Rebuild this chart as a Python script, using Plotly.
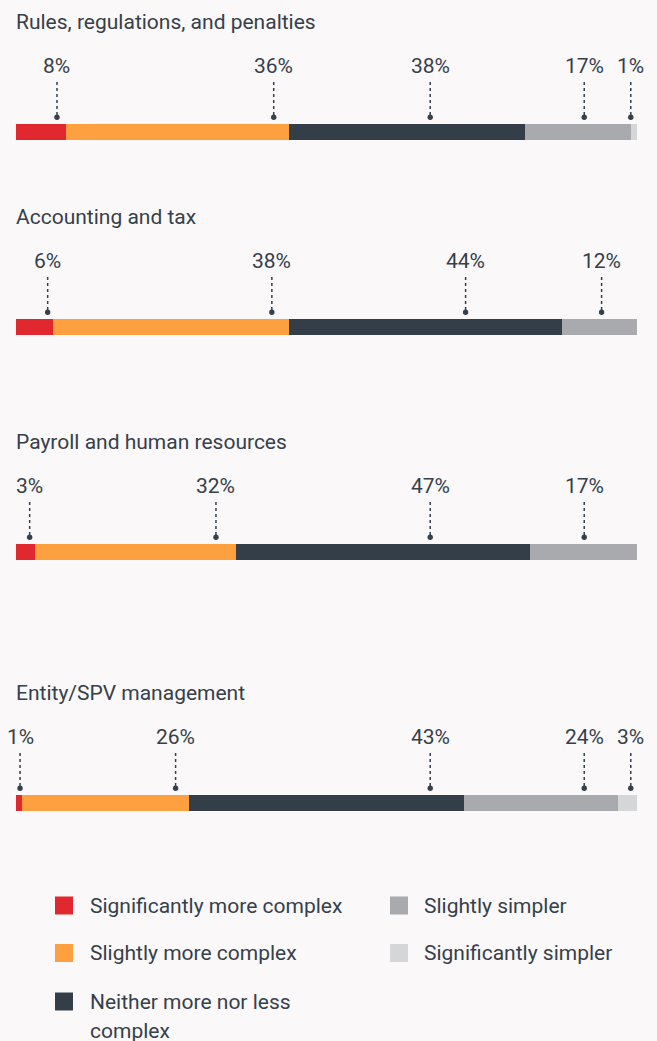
import textwrap
import plotly.graph_objects as go

# Survey areas (one stacked bar each)
areas = [
    "Rules, regulations, and penalties",
    "Accounting and tax",
    "Payroll and human resources",
    "Entity/SPV management",
]

# Response categories, in stacking order
responses = [
    "Significantly more complex",
    "Slightly more complex",
    "Neither more nor less complex",
    "Slightly simpler",
    "Significantly simpler",
]

# Share of respondents (%) per area, one list per response category
sig_more = [8, 6, 3, 1]
slight_more = [36, 38, 32, 26]
neither = [38, 44, 47, 43]
slight_simpler = [17, 12, 17, 24]
sig_simpler = [1, 0, 0, 3]
series = [sig_more, slight_more, neither, slight_simpler, sig_simpler]

# Where each value callout sits along its bar (0-100 of bar length)
callout_pos = [
    [6.6, 41.5, 66.7, 91.5, 99.0],
    [5.1, 41.2, 72.4, 94.3, None],
    [2.2, 32.2, 66.7, 91.5, None],
    [0.65, 25.7, 66.7, 91.5, 99.0],
]

colors = ["#e0282e", "#ffa040", "#333e48", "#a8aaad", "#d5d6d8"]
TEXT = "#36404a"
BG = "#faf8f9"
FONT = "Roboto"
FS = 21

W, H = 657, 1041
X0, X1 = 16, 637          # horizontal extent of bars (px)
BAR_H = 16
row_tops = [124, 319, 544, 795]


def py(p):
    """pixel row -> paper y"""
    return 1 - p / H


fig = go.Figure()
layout = {}
shapes = []
annotations = []

for i, area in enumerate(areas):
    ax = "" if i == 0 else str(i + 1)
    top = row_tops[i]
    for k, resp in enumerate(responses):
        v = series[k][i]
        if v == 0:
            continue
        fig.add_trace(go.Bar(
            x=[v], y=[0], orientation="h", name=resp,
            marker=dict(color=colors[k], line=dict(width=0)),
            width=1, showlegend=False, hoverinfo="skip",
            xaxis="x" + ax, yaxis="y" + ax,
        ))
    layout["xaxis" + ax] = dict(
        domain=[X0 / W, X1 / W], range=[0, 100], visible=False,
        anchor="y" + ax, fixedrange=True,
    )
    layout["yaxis" + ax] = dict(
        domain=[py(top + BAR_H), py(top)], range=[-0.5, 0.5], visible=False,
        anchor="x" + ax, fixedrange=True,
    )

    # section title
    annotations.append(dict(
        text=area, xref="paper", yref="paper", x=(X0 - 1) / W, y=py(top - 102),
        xanchor="left", yanchor="middle", showarrow=False, borderpad=0,
        font=dict(family=FONT, size=FS, color=TEXT),
    ))

    # value callouts with dotted leaders
    for k in range(len(responses)):
        v = series[k][i]
        pos = callout_pos[i][k]
        if v == 0 or pos is None:
            continue
        annotations.append(dict(
            text=f"{v}%", xref="x" + ax, yref="paper", x=pos, y=py(top - 58.5),
            xanchor="center", yanchor="middle", showarrow=False,
            font=dict(family=FONT, size=FS, color=TEXT),
        ))
        shapes.append(dict(
            type="line", xref="x" + ax, yref="paper",
            x0=pos, x1=pos, y0=py(top - 42), y1=py(top - 9),
            line=dict(color=TEXT, width=1.5, dash="dot"),
        ))
        shapes.append(dict(
            type="circle", xref="x" + ax, yref="paper",
            xsizemode="pixel", ysizemode="pixel",
            xanchor=pos, yanchor=py(top - 6.7),
            x0=-2.7, x1=2.7, y0=-2.7, y1=2.7,
            fillcolor=TEXT, line=dict(width=0),
        ))

# Legend, two columns
legend_cols = [(55, 90), (390, 424)]
legend_slots = [(0, 905.5), (0, 953), (0, 1001.5), (1, 905.5), (1, 953)]
for k, resp in enumerate(responses):
    col, cy = legend_slots[k]
    sx, tx = legend_cols[col]
    shapes.append(dict(
        type="rect", xref="paper", yref="paper",
        x0=sx / W, x1=(sx + 18) / W, y0=py(cy + 9), y1=py(cy - 9),
        fillcolor=colors[k], line=dict(width=0),
    ))
    for j, line in enumerate(textwrap.wrap(resp, 26)):
        annotations.append(dict(
            text=line, xref="paper", yref="paper", x=(tx - 1) / W, y=py(cy + 29 * j),
            xanchor="left", yanchor="middle", showarrow=False, borderpad=0,
            font=dict(family=FONT, size=FS, color=TEXT),
        ))

fig.update_layout(
    **layout,
    barmode="stack",
    barnorm="percent",
    width=W, height=H,
    margin=dict(l=0, r=0, t=0, b=0),
    paper_bgcolor=BG, plot_bgcolor=BG,
    shapes=shapes, annotations=annotations,
    showlegend=False,
)

fig.write_html("out.html", config={"displayModeBar": False})
